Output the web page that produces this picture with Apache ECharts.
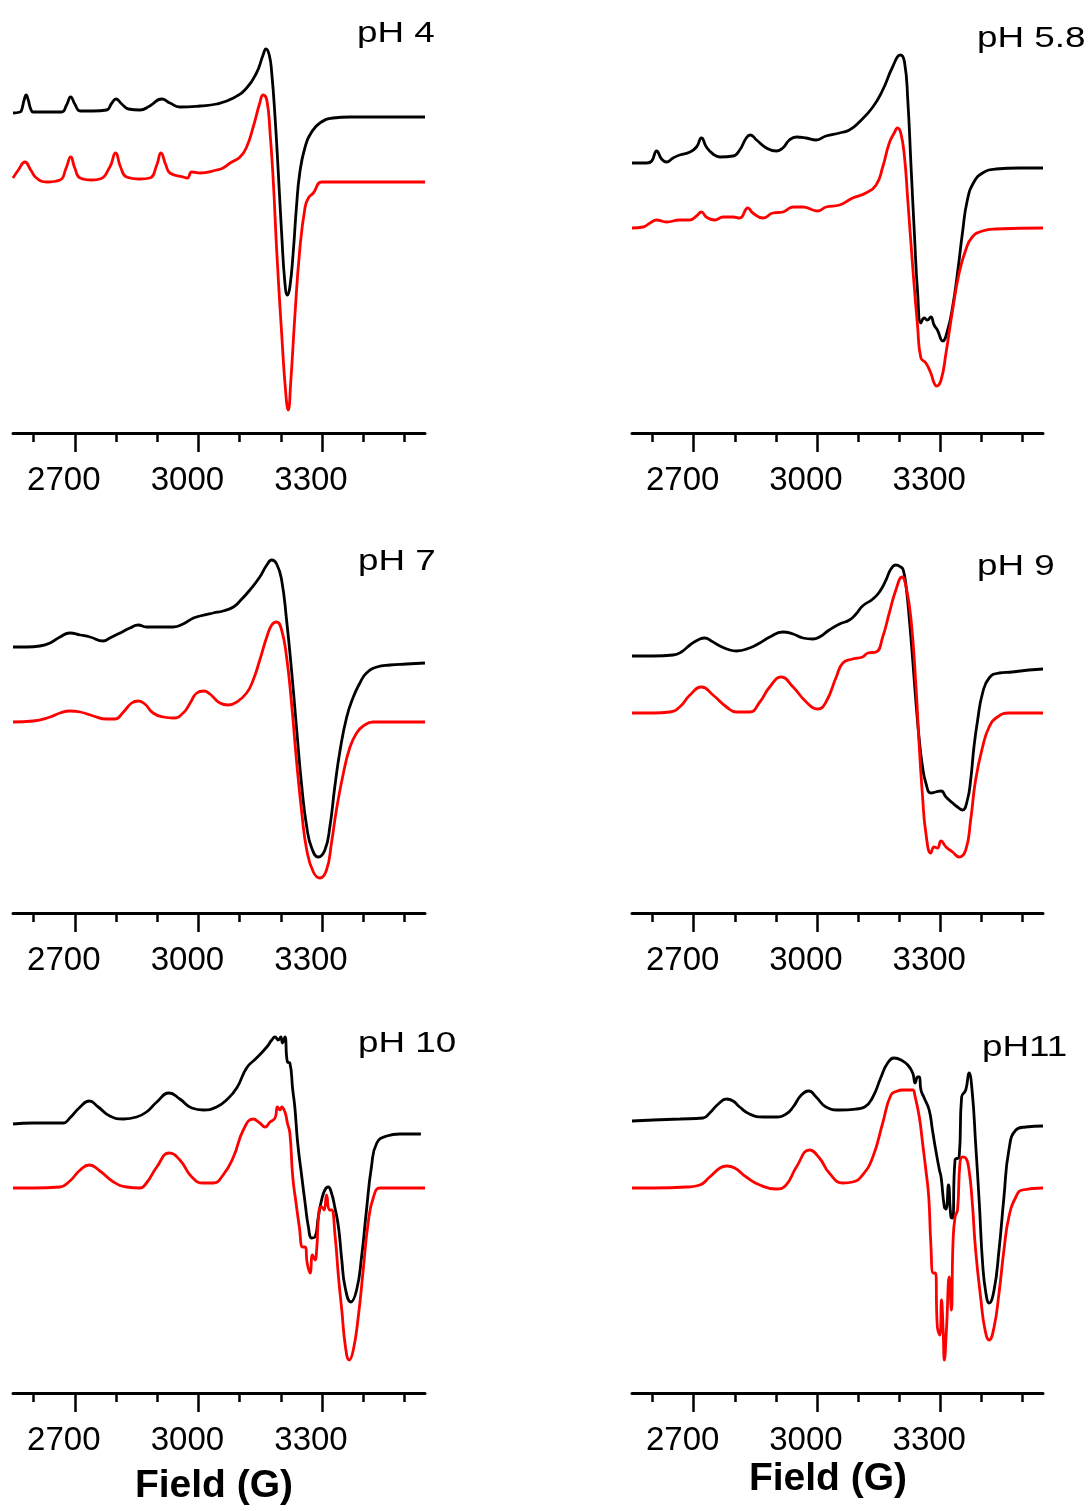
<!DOCTYPE html>
<html>
<head>
<meta charset="utf-8">
<script src="https://cdn.jsdelivr.net/npm/echarts@6/dist/echarts.min.js"></script>
<style>
  html, body { margin: 0; background: #fff; }
  #chart { width: 1088px; height: 1511px; }
</style>
</head>
<body>
<div id="chart"></div>
<script>
// field axis (G)
const fieldMin = 2550;
const fieldMax = 3550;
const majorTicks = [2700, 3000, 3300];
const minorTicks = [2600, 2800, 2900, 3100, 3200, 3400, 3500];

// spectra, [field (G), intensity (a.u.)] - black = experiment, red = simulation
const blackPH4 = [[2550,320],[2567,321],[2571,323],[2577,333],[2582,338],[2587,333],[2593,324],[2599,321],[2640,321],[2668,321],[2680,328],[2690,336],[2700,329],[2713,322],[2745,322],[2777,323],[2790,330],[2800,334],[2814,329],[2830,324],[2858,323],[2882,327],[2911,334],[2931,330],[2955,326],[3004,327],[3044,329],[3085,335],[3117,345],[3141,360],[3157,378],[3164,384],[3172,378],[3178,360],[3186,316],[3194,260],[3202,200],[3210,150],[3216,138],[3222,146],[3230,180],[3238,226],[3246,260],[3259,286],[3275,301],[3295,310],[3327,315],[3368,316],[3408,316],[3550,316]];
const redPH4 = [[2550,255],[2563,263],[2579,271],[2593,263],[2607,255],[2632,251],[2664,253],[2679,265],[2690,276],[2700,265],[2713,255],[2741,253],[2761,254],[2785,266],[2799,280],[2811,266],[2826,256],[2858,254],[2882,255],[2899,268],[2909,280],[2921,268],[2931,260],[2963,256],[2973,255],[2984,261],[3004,260],[3044,263],[3060,265],[3077,270],[3101,276],[3117,286],[3133,306],[3149,330],[3157,338],[3166,333],[3174,300],[3182,250],[3190,183],[3202,100],[3212,40],[3218,23],[3224,50],[3234,116],[3246,183],[3259,226],[3267,235],[3279,240],[3299,251],[3327,251],[3550,251]];

const blackPH58 = [[2550,270],[2586,270],[2598,272],[2610,282],[2622,274],[2634,271],[2650,275],[2666,278],[2691,281],[2707,286],[2719,295],[2731,286],[2747,279],[2764,276],[2796,277],[2812,283],[2828,295],[2838,298],[2853,293],[2877,285],[2901,282],[2917,285],[2933,293],[2950,296],[2974,295],[2998,293],[3022,297],[3055,300],[3079,303],[3103,311],[3136,326],[3160,343],[3184,366],[3203,378],[3213,371],[3221,333],[3229,266],[3237,200],[3245,140],[3253,110],[3261,115],[3269,113],[3277,116],[3285,108],[3293,103],[3306,92],[3318,103],[3330,126],[3342,160],[3354,200],[3366,233],[3382,251],[3403,260],[3435,264],[3492,265],[3550,265]];
const redPH58 = [[2550,205],[2577,206],[2594,210],[2610,213],[2634,211],[2666,213],[2691,213],[2707,217],[2719,221],[2731,216],[2751,213],[2772,216],[2796,216],[2812,215],[2832,225],[2844,220],[2869,215],[2893,220],[2917,221],[2942,226],[2966,226],[2990,223],[3002,222],[3022,226],[3055,228],[3087,235],[3119,240],[3144,248],[3160,266],[3176,290],[3188,300],[3196,305],[3204,300],[3213,276],[3221,233],[3233,166],[3245,106],[3253,75],[3265,70],[3277,60],[3285,50],[3291,47],[3302,53],[3314,80],[3330,123],[3346,160],[3362,183],[3378,196],[3403,202],[3435,204],[3550,205]];

const blackPH7 = [[2550,266],[2583,266],[2615,267],[2640,270],[2664,276],[2688,280],[2713,278],[2737,276],[2769,272],[2785,275],[2810,280],[2834,285],[2854,288],[2874,286],[2907,286],[2939,286],[2963,289],[2988,295],[3004,297],[3036,300],[3060,302],[3085,306],[3101,312],[3125,323],[3149,336],[3166,348],[3178,353],[3190,349],[3202,333],[3214,293],[3226,243],[3238,186],[3251,126],[3263,86],[3275,65],[3291,56],[3307,63],[3319,86],[3331,126],[3344,163],[3360,196],[3376,216],[3392,230],[3408,240],[3433,246],[3465,248],[3505,249],[3550,250]];
const redPH7 = [[2550,191],[2599,192],[2640,196],[2664,200],[2688,202],[2713,201],[2745,197],[2777,194],[2797,194],[2818,201],[2838,210],[2854,212],[2870,209],[2890,200],[2915,196],[2939,195],[2963,200],[2980,210],[2996,220],[3013,222],[3028,219],[3052,210],[3073,208],[3093,211],[3117,220],[3133,233],[3149,253],[3166,276],[3178,288],[3190,291],[3202,283],[3214,256],[3226,210],[3238,153],[3251,100],[3263,63],[3279,41],[3295,35],[3311,43],[3323,70],[3335,103],[3352,140],[3368,166],[3384,180],[3400,187],[3424,191],[3489,191],[3550,191]];

const blackPH9 = [[2550,257],[2602,257],[2650,258],[2670,261],[2691,268],[2715,274],[2727,275],[2743,272],[2764,267],[2788,263],[2804,262],[2836,265],[2861,270],[2885,276],[2917,281],[2942,279],[2966,275],[2990,274],[3006,276],[3030,283],[3055,289],[3079,293],[3095,299],[3111,307],[3136,314],[3152,321],[3168,333],[3180,344],[3192,348],[3204,346],[3210,343],[3217,326],[3225,293],[3233,253],[3241,210],[3249,173],[3257,146],[3265,130],[3277,120],[3289,121],[3302,122],[3314,116],[3330,110],[3342,106],[3354,103],[3366,113],[3374,133],[3382,166],[3391,193],[3403,220],[3419,235],[3443,240],[3475,241],[3516,243],[3550,244]];
const redPH9 = [[2550,200],[2602,200],[2642,201],[2666,206],[2691,218],[2719,226],[2747,218],[2780,206],[2804,201],[2836,201],[2861,211],[2885,226],[2913,236],[2942,226],[2974,211],[3002,204],[3022,211],[3047,236],[3063,250],[3087,254],[3111,256],[3124,260],[3144,261],[3160,276],[3176,300],[3192,323],[3207,336],[3217,326],[3229,293],[3241,226],[3249,166],[3257,116],[3265,80],[3277,60],[3285,66],[3293,65],[3302,72],[3314,66],[3330,61],[3346,56],[3362,63],[3374,93],[3386,133],[3403,166],[3419,186],[3439,196],[3467,200],[3550,200]];

const blackPH10 = [[2550,269],[2599,270],[2640,270],[2672,270],[2688,275],[2713,286],[2735,292],[2757,286],[2785,277],[2818,274],[2850,276],[2874,281],[2899,291],[2929,300],[2955,294],[2984,285],[3012,283],[3044,286],[3068,293],[3093,305],[3117,325],[3141,335],[3166,346],[3178,353],[3186,356],[3194,353],[3200,356],[3204,350],[3210,356],[3216,331],[3222,330],[3229,303],[3234,286],[3241,250],[3251,216],[3259,190],[3267,166],[3275,155],[3283,156],[3291,176],[3299,193],[3307,203],[3315,206],[3323,200],[3331,186],[3340,166],[3348,133],[3356,106],[3370,91],[3384,103],[3396,136],[3408,183],[3420,226],[3433,250],[3457,257],[3489,259],[3540,259]];
const redPH10 = [[2550,205],[2599,205],[2664,206],[2688,212],[2713,223],[2735,228],[2761,222],[2794,211],[2826,206],[2858,205],[2874,210],[2899,226],[2929,240],[2955,233],[2984,216],[3012,210],[3036,210],[3060,218],[3085,236],[3109,263],[3133,274],[3149,270],[3162,266],[3174,271],[3186,275],[3192,286],[3198,283],[3202,286],[3210,281],[3216,270],[3222,260],[3229,216],[3237,190],[3245,166],[3253,146],[3259,146],[3264,130],[3271,120],[3277,138],[3283,133],[3287,143],[3293,183],[3299,186],[3305,183],[3311,198],[3318,183],[3323,183],[3332,156],[3340,116],[3348,83],[3357,46],[3366,33],[3376,43],[3388,76],[3400,123],[3412,170],[3425,196],[3441,205],[3489,205],[3550,205]];

const blackPH11 = [[2550,272],[2602,273],[2667,274],[2723,275],[2739,280],[2760,289],[2780,294],[2796,292],[2812,286],[2836,279],[2869,276],[2901,276],[2925,279],[2942,286],[2962,298],[2980,302],[2998,296],[3022,286],[3055,283],[3095,284],[3116,286],[3136,296],[3156,316],[3172,330],[3188,335],[3205,333],[3221,328],[3233,320],[3239,310],[3245,316],[3249,316],[3253,303],[3261,295],[3273,283],[3281,263],[3289,243],[3298,223],[3302,216],[3310,186],[3314,184],[3320,208],[3326,176],[3330,175],[3336,233],[3346,236],[3352,296],[3362,303],[3370,320],[3378,300],[3386,250],[3395,190],[3403,130],[3411,100],[3419,90],[3431,103],[3443,143],[3455,196],[3467,243],[3484,263],[3508,266],[3550,267]];
const redPH11 = [[2550,205],[2602,205],[2683,206],[2715,208],[2739,216],[2764,225],[2780,227],[2800,225],[2828,216],[2861,208],[2901,204],[2925,208],[2950,226],[2982,243],[3006,235],[3030,220],[3063,210],[3087,211],[3111,218],[3136,236],[3160,270],[3180,298],[3196,302],[3208,303],[3225,303],[3233,303],[3239,296],[3249,276],[3257,250],[3265,223],[3272,196],[3277,150],[3283,120],[3288,120],[3293,66],[3299,58],[3303,93],[3307,63],[3310,33],[3315,63],[3322,116],[3327,83],[3331,150],[3336,176],[3342,183],[3348,230],[3354,236],[3362,235],[3370,223],[3378,190],[3386,143],[3399,93],[3409,63],[3419,53],[3431,66],[3443,100],[3455,143],[3467,176],[3484,196],[3500,203],[3550,205]];

const panels = [
  { name: 'pH 4',   black: blackPH4,  red: redPH4 },
  { name: 'pH 5.8', black: blackPH58, red: redPH58 },
  { name: 'pH 7',   black: blackPH7,  red: redPH7 },
  { name: 'pH 9',   black: blackPH9,  red: redPH9 },
  { name: 'pH 10',  black: blackPH10, red: redPH10 },
  { name: 'pH11',   black: blackPH11, red: redPH11 }
];

// layout
const cols = [{ left: 13, width: 412 }, { left: 632, width: 411 }];
const rowTops = [0, 480, 960];
const plotH = 433;
const namePos = [[357, 19], [977, 24], [358, 547], [977, 552], [358, 1029], [982, 1033]];

const FONT = '"Liberation Sans", Arial, sans-serif';
const grid = [], xAxis = [], yAxis = [], series = [], graphic = [];

panels.forEach((p, i) => {
  const c = cols[i % 2];
  grid.push({ left: c.left, width: c.width, top: rowTops[Math.floor(i / 2)], height: plotH, outerBoundsMode: 'none' });
  const base = {
    gridIndex: i, type: 'value', min: fieldMin, max: fieldMax, position: 'bottom', offset: 0,
    splitLine: { show: false }
  };
  // minor ticks + axis line
  xAxis.push(Object.assign({}, base, {
    axisLine: { show: true, onZero: false, lineStyle: { color: '#000', width: 3 } },
    axisTick: { show: true, customValues: minorTicks, length: 9, lineStyle: { color: '#000', width: 2.5 } },
    axisLabel: { show: false }
  }));
  // major ticks + labels
  xAxis.push(Object.assign({}, base, {
    axisLine: { show: false, onZero: false },
    axisTick: { show: true, customValues: majorTicks, length: 19, lineStyle: { color: '#000', width: 2.5 } },
    axisLabel: {
      show: true, customValues: majorTicks, color: '#000', fontSize: 33, fontFamily: FONT,
      margin: 31, padding: [0, 22, 0, 0], formatter: v => String(v)
    }
  }));
  yAxis.push({ gridIndex: i, type: 'value', min: 0, max: plotH, show: false });

  [[p.black, '#000000'], [p.red, '#ff0000']].forEach(([d, color]) => {
    series.push({
      type: 'line', xAxisIndex: i * 2 + 1, yAxisIndex: i, data: d,
      symbol: 'none', smooth: 0.5, silent: true,
      lineStyle: { color: color, width: 2.8 }
    });
  });

  graphic.push({
    type: 'text', x: namePos[i][0], y: namePos[i][1], scaleX: 1.27,
    style: { text: p.name, fill: '#000', fontSize: 29, fontFamily: FONT, textAlign: 'left', textVerticalAlign: 'top' }
  });
});

// axis titles
[[214, 1467], [828, 1460]].forEach(([x, y]) => {
  graphic.push({
    type: 'text', x: x, y: y,
    style: { text: 'Field (G)', fill: '#000', fontSize: 39, fontWeight: 'bold', fontFamily: FONT, textAlign: 'center', textVerticalAlign: 'top' }
  });
});

const chart = echarts.init(document.getElementById('chart'), null, { renderer: 'canvas' });
chart.setOption({
  backgroundColor: '#fff',
  animation: false,
  grid, xAxis, yAxis, series, graphic
});
</script>
</body>
</html>
